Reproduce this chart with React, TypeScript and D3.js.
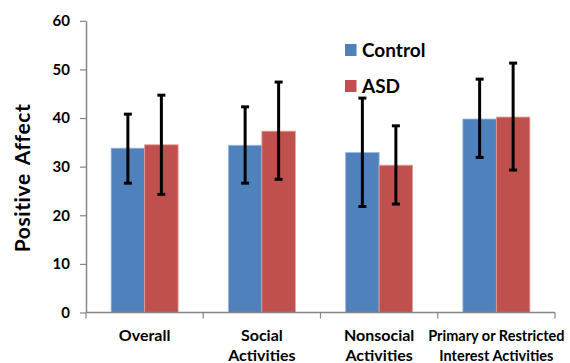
import React, { useRef, useEffect } from 'react';
import * as d3 from 'd3';

// categories (each line of a label is one entry)
const categories = ['Overall', 'Social', 'Nonsocial', 'Primary'];
const categoryLabels: string[][] = [
  ['Overall'],
  ['Social', 'Activities'],
  ['Nonsocial', 'Activities'],
  ['Primary or Restricted', 'Interest Activities'],
];
const seriesNames = ['Control', 'ASD'];
const controlMean = [33.8, 34.4, 32.9, 39.8];
const controlLow = [26.6, 26.6, 21.8, 31.9];
const controlHigh = [40.8, 42.3, 44.1, 48.0];
const asdMean = [34.5, 37.3, 30.3, 40.2];
const asdLow = [24.3, 27.4, 22.3, 29.3];
const asdHigh = [44.7, 47.4, 38.4, 51.3];
const yTicks = [0, 10, 20, 30, 40, 50, 60];

const COLORS = ['#4F81BD', '#C0504D'];
const EDGE = ['#9db9dd', '#e0a09e'];
const FONT = 'Lato, "Open Sans", Arial, sans-serif';

const App: React.FC = () => {
  const svgRef = useRef<SVGSVGElement | null>(null);

  useEffect(() => {
    const svg = d3.select(svgRef.current);
    svg.selectAll('*').remove();

    const margin = { left: 86, top: 20.8 };
    const w = 555 - margin.left;
    const h = 312.5 - margin.top;
    const g = svg.append('g').attr('transform', `translate(${margin.left},${margin.top})`);

    const x = d3.scaleBand().domain(categories).range([0, w]).paddingInner(0).paddingOuter(0);
    const inner = d3.scaleBand().domain(seriesNames).range([0, x.bandwidth()]).paddingInner(0).paddingOuter(0.75);
    const y = d3.scaleLinear().domain([0, 60]).range([h, 0]);

    const series = [
      { name: 'Control', mean: controlMean, low: controlLow, high: controlHigh },
      { name: 'ASD', mean: asdMean, low: asdLow, high: asdHigh },
    ];

    // bars
    series.forEach((s, si) => {
      g.selectAll(`rect.bar${si}`)
        .data(categories)
        .enter()
        .append('rect')
        .attr('class', `bar${si}`)
        .attr('x', (c) => (x(c) ?? 0) + (inner(s.name) ?? 0))
        .attr('y', (_, i) => y(s.mean[i]))
        .attr('width', inner.bandwidth())
        .attr('height', (_, i) => h - y(s.mean[i]))
        .attr('fill', COLORS[si])
        .attr('stroke', EDGE[si])
        .attr('stroke-width', 0.8);
    });

    // y axis
    const yAxis = g.append('g').call(d3.axisLeft(y).tickValues(yTicks).tickSize(6).tickSizeOuter(0).tickFormat(d3.format('d')));
    yAxis.select('.domain').attr('stroke', '#868686').attr('stroke-width', 1.5);
    yAxis.selectAll('.tick line').attr('stroke', '#868686').attr('stroke-width', 1.2);
    yAxis.selectAll('.tick text')
      .attr('x', -16)
      .attr('font-family', FONT)
      .attr('font-weight', 'bold')
      .attr('font-size', 15)
      .attr('fill', '#000');

    // x axis
    const xAxis = g.append('g').attr('transform', `translate(0,${h})`);
    xAxis.append('line').attr('x1', 0).attr('x2', w).attr('y1', 0).attr('y2', 0)
      .attr('stroke', '#868686').attr('stroke-width', 1.5);
    const bounds = categories.map((c) => x(c) ?? 0).concat([w]);
    xAxis.selectAll('line.tk')
      .data(bounds)
      .enter()
      .append('line')
      .attr('class', 'tk')
      .attr('x1', (d) => d)
      .attr('x2', (d) => d)
      .attr('y1', 0)
      .attr('y2', 6)
      .attr('stroke', '#868686')
      .attr('stroke-width', 1.2);

    categories.forEach((c, i) => {
      const lines = categoryLabels[i];
      const t = xAxis.append('text')
        .attr('text-anchor', 'middle')
        .attr('font-family', FONT)
        .attr('font-weight', 'bold')
        .attr('font-size', i === 3 ? 14.5 : 16)
        .attr('fill', '#000');
      lines.forEach((ln, li) => {
        t.append('tspan')
          .attr('x', (x(c) ?? 0) + x.bandwidth() / 2)
          .attr('y', 28 + li * 20)
          .text(ln);
      });
    });

    // error bars
    series.forEach((s) => {
      const cx = (c: string) => (x(c) ?? 0) + (inner(s.name) ?? 0) + inner.bandwidth() / 2;
      const eg = g.append('g');
      categories.forEach((c, i) => {
        eg.append('line')
          .attr('x1', cx(c)).attr('x2', cx(c))
          .attr('y1', y(s.high[i])).attr('y2', y(s.low[i]))
          .attr('stroke', '#000').attr('stroke-width', 3);
        [s.high[i], s.low[i]].forEach((v) => {
          eg.append('line')
            .attr('x1', cx(c) - 4).attr('x2', cx(c) + 4)
            .attr('y1', y(v)).attr('y2', y(v))
            .attr('stroke', '#000').attr('stroke-width', 3);
        });
      });
    });

    // y axis title
    svg.append('text')
      .attr('transform', `translate(30,${178}) rotate(-90)`)
      .attr('text-anchor', 'middle')
      .attr('font-family', FONT)
      .attr('font-weight', 'bold')
      .attr('font-size', 21)
      .attr('letter-spacing', 0.6)
      .attr('word-spacing', 3)
      .attr('fill', '#000')
      .text('Positive Affect');

    // legend
    const legend = svg.append('g').attr('transform', 'translate(345,44)');
    seriesNames.forEach((n, i) => {
      const row = legend.append('g').attr('transform', `translate(0,${i * 36})`);
      row.append('rect').attr('width', 11.5).attr('height', 12).attr('fill', COLORS[i]);
      row.append('text')
        .attr('x', 17)
        .attr('y', 12.5)
        .attr('font-family', FONT)
        .attr('font-weight', 'bold')
        .attr('font-size', 19)
        .attr('fill', '#000')
        .text(n);
    });
  }, []);

  return (
    <svg
      ref={svgRef}
      width={570}
      height={363}
      style={{ position: 'absolute', left: 0, top: 0, background: '#fff' }}
    />
  );
};

export default App;
